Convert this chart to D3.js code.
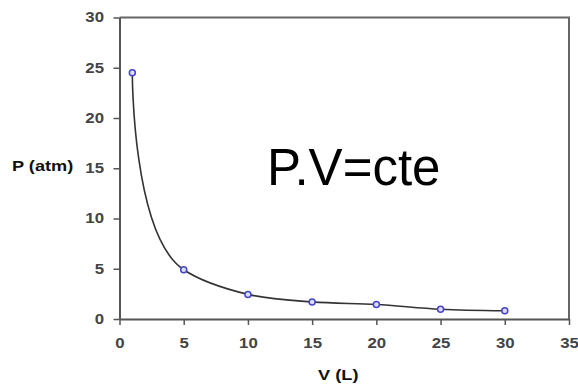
<!DOCTYPE html>
<html><head><meta charset="utf-8">
<script src="https://cdn.jsdelivr.net/npm/d3@7"></script>
<style>
body { margin: 0; background: #fff; }
text { font-family: "Liberation Sans", Arial, sans-serif; }
</style></head>
<body><svg id="chart" width="578" height="385"></svg>
<script>
// volume (L) and pressure (atm)
const volume = [1, 5, 10, 15, 20, 25, 30];
const pressure = [24.5, 4.9, 2.45, 1.7, 1.45, 0.97, 0.82];
const xTicks = [0, 5, 10, 15, 20, 25, 30, 35];
const yTicks = [0, 5, 10, 15, 20, 25, 30];

const svg = d3.select('#chart');

const xScale = d3.scaleLinear().domain([0, 35]).range([119.5, 569]);
const yScale = d3.scaleLinear().domain([0, 30]).range([319, 17.5]);

const points = volume.map((v, i) => ({ v: v, p: pressure[i] }));
const stretch = 1.2; // the source picture is a bit wider than tall

// frame: top and right edges
svg.append('path')
    .attr('d', `M${xScale(0)},${yScale(30)}H${xScale(35)}V${yScale(0)}`)
    .attr('fill', 'none')
    .attr('stroke', '#666')
    .attr('stroke-width', 2);

const styleAxis = g => {
    g.select('.domain').attr('stroke', '#555').attr('stroke-width', 2);
    g.selectAll('.tick line').attr('stroke', '#555').attr('stroke-width', 1.5);
    g.selectAll('.tick text')
        .attr('fill', '#444')
        .attr('font-size', 14)
        .attr('font-weight', 'bold')
        .attr('transform', `scale(${stretch},1)`);
};

// x axis
svg.append('g')
    .attr('transform', `translate(0,${yScale(0)})`)
    .call(d3.axisBottom(xScale).tickValues(xTicks).tickSize(6).tickSizeOuter(0).tickPadding(13))
    .call(styleAxis);

// y axis
svg.append('g')
    .attr('transform', `translate(${xScale(0)},0)`)
    .call(d3.axisLeft(yScale).tickValues(yTicks).tickSize(6).tickSizeOuter(0).tickPadding(9))
    .call(styleAxis)
    .selectAll('.tick text')
    .attr('x', -15.5 / stretch);

// curve through the points
const line = d3.line()
    .x(d => xScale(d.v))
    .y(d => yScale(d.p))
    .curve(d3.curveCatmullRom.alpha(1));

svg.append('path')
    .datum(points)
    .attr('d', line)
    .attr('fill', 'none')
    .attr('stroke', '#333')
    .attr('stroke-width', 1.6);

svg.selectAll('.marker')
    .data(points)
    .enter().append('circle')
    .attr('class', 'marker')
    .attr('cx', d => xScale(d.v))
    .attr('cy', d => yScale(d.p))
    .attr('r', 3)
    .attr('fill', '#dde')
    .attr('stroke', '#4444cc')
    .attr('stroke-width', 1.5);

// axis titles
svg.append('text')
    .attr('transform', 'translate(12,171) scale(1.3,1)')
    .attr('font-size', 14)
    .attr('font-weight', 'bold')
    .attr('fill', '#111')
    .text('P (atm)');

svg.append('text')
    .attr('transform', `translate(${(xScale(0) + xScale(35)) / 2 - 6},380) scale(1.3,1)`)
    .attr('text-anchor', 'middle')
    .attr('font-size', 14)
    .attr('font-weight', 'bold')
    .attr('fill', '#111')
    .text('V (L)');

// annotation
svg.append('text')
    .attr('x', 267)
    .attr('y', 185)
    .attr('font-size', 51)
    .attr('fill', '#000')
    .text('P.V=cte');
</script></body></html>
